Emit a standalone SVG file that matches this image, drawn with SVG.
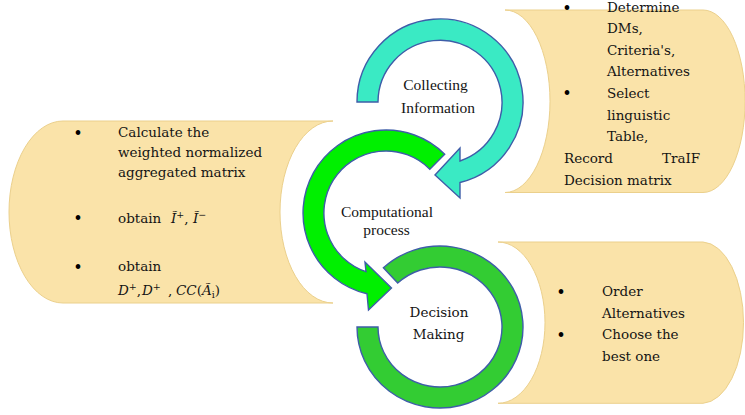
<svg xmlns="http://www.w3.org/2000/svg" width="745" height="415" viewBox="0 0 745 415">
<style>
.box{fill:#FAE3A9;stroke:#EBD08C;stroke-width:1}
.ring{stroke:#3E5DA8;stroke-width:1.4;stroke-linejoin:miter}
.t{font-family:"DejaVu Serif","Liberation Serif",serif;font-size:13.5px;fill:#141414}
.b{font-family:"DejaVu Serif",serif;font-size:16px;fill:#000;text-anchor:middle}
.lbl{font-family:"Liberation Serif","Times New Roman",serif;font-size:15.5px;fill:#141414;text-anchor:middle}
.lbl2{font-family:"DejaVu Serif",serif;font-size:13.5px;fill:#141414;text-anchor:middle}
.it{font-style:italic}
.sm{font-size:9.5px}
</style>
<rect width="745" height="415" fill="#fff"/>
<g id="box-compute">
<path class="box" d="M63,121 L333,121 A53,91 0 0 0 333,303 L63,303 A54,91 0 0 1 63,121 Z"/>
<text class="b" x="78" y="138.5">•</text>
<text class="t" x="118" y="137.3">Calculate the</text>
<text class="t" x="118" y="157.3">weighted normalized</text>
<text class="t" x="118" y="176.7">aggregated matrix</text>
<text class="b" x="78" y="223.5">•</text>
<text class="t" x="118" y="222.7">obtain</text>
<text class="t" x="171" y="222.7"><tspan class="it">Ĩ</tspan><tspan class="sm" dy="-5">+</tspan><tspan dy="5">,</tspan></text>
<text class="t" x="193" y="222.7"><tspan class="it">Ĩ</tspan><tspan class="sm" dy="-5">−</tspan></text>
<text class="b" x="78" y="272.5">•</text>
<text class="t" x="118" y="271">obtain</text>
<text class="t" y="295"><tspan class="it" x="118">D</tspan><tspan class="sm" dy="-5">+</tspan><tspan dy="5">,</tspan><tspan class="it" x="142">D</tspan><tspan class="sm" dy="-5">+</tspan><tspan dy="5" x="168">,</tspan><tspan class="it" x="176">CC</tspan><tspan>(</tspan><tspan class="it">Ã</tspan><tspan class="sm" dy="3">i</tspan><tspan dy="-3">)</tspan></text>
</g>
<g id="box-collect">
<path class="box" d="M505,10 L703,10 A42,91 0 0 1 703,192.5 L505,192.5 A45,91.25 0 0 0 505,10 Z"/>
<text class="b" x="567" y="13.5">•</text>
<text class="t" x="607" y="12">Determine</text>
<text class="t" x="607" y="33.3">DMs,</text>
<text class="t" x="607" y="54.8">Criteria's,</text>
<text class="t" x="607" y="76.3">Alternatives</text>
<text class="b" x="567" y="98.5">•</text>
<text class="t" x="607" y="97.8">Select</text>
<text class="t" x="607" y="119.5">linguistic</text>
<text class="t" x="607" y="141.2">Table,</text>
<text class="t" y="162.9"><tspan x="564">Record</tspan><tspan x="662">TraIF</tspan></text>
<text class="t" x="564" y="184.6">Decision matrix</text>
</g>
<g id="box-decide">
<path class="box" d="M498,242 L703,242 A42,80.7 0 0 1 703,403.3 L498,403.3 A47,80.65 0 0 0 498,242 Z"/>
<text class="b" x="561" y="297.5">•</text>
<text class="t" x="602" y="296">Order</text>
<text class="t" x="602" y="317.5">Alternatives</text>
<text class="b" x="561" y="340.5">•</text>
<text class="t" x="602" y="339">Choose the</text>
<text class="t" x="602" y="361">best one</text>
</g>
<g id="connectors">
<path id="arrow-decide" class="ring" fill="#33CC33" d="M383.4,267.8 A83,81 0 1 1 357,327 L378,327 A62,60 0 1 0 397.7,283.1 Z"/>
<path id="arrow-compute" class="ring" fill="#00F000" d="M444.7,154.3 A83,83 0 1 0 367,293.8 L368.5,310 L391.5,288 L365,262 L366,271.7 A62,62 0 1 1 429.8,169.2 Z"/>
<path id="arrow-collect" class="ring" fill="#3AEAC4" d="M357,102 A83,83 0 1 1 460,182.5 L460,198 L435,175 L460,148 L460,161 A62,62 0 1 0 378,102 Z"/>
</g>
<g id="step-collect"><text class="lbl" x="435.5" y="90">Collecting</text><text class="lbl" x="438" y="113">Information</text></g>
<g id="step-compute"><text class="lbl" x="387" y="217">Computational</text><text class="lbl" x="386.5" y="235">process</text></g>
<g id="step-decide"><text class="lbl2" x="439" y="317">Decision</text><text class="lbl2" x="438.5" y="338.5">Making</text></g>
</svg>
